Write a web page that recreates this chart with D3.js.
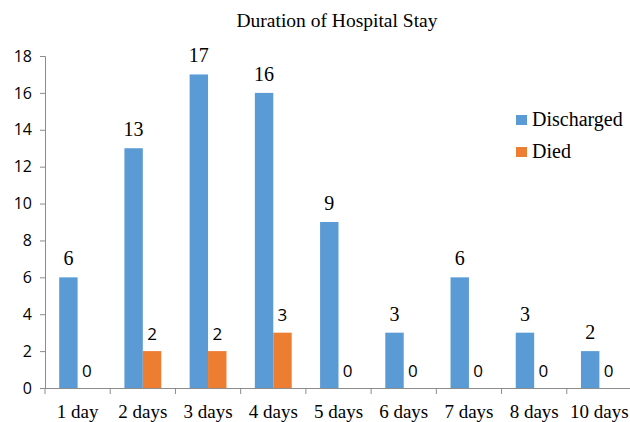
<!DOCTYPE html>
<html>
<head>
<meta charset="utf-8">
<script src="https://cdn.jsdelivr.net/npm/d3@7"></script>
<style>
  body { margin: 0; background: #fff; }
</style>
</head>
<body>
<div id="chart"></div>
<script>
// data
const categories = ['1 day', '2 days', '3 days', '4 days', '5 days', '6 days', '7 days', '8 days', '10 days'];
const discharged = [6, 13, 17, 16, 9, 3, 6, 3, 2];
const died = [0, 2, 2, 3, 0, 0, 0, 0, 0];
const yTicks = [0, 2, 4, 6, 8, 10, 12, 14, 16, 18];

const SERIF = "'Liberation Serif'";
const SANS = "'Open Sans'";

const WIDTH = 630, HEIGHT = 422;
const margin = {top: 56, right: -2, bottom: 34, left: 45};

const svg = d3.select('#chart').append('svg')
    .attr('width', WIDTH)
    .attr('height', HEIGHT);

const x = d3.scaleBand()
    .domain(categories)
    .range([margin.left, WIDTH - margin.right]);

const sub = d3.scaleBand()
    .domain(['discharged', 'died'])
    .range([0, x.bandwidth()])
    .paddingInner(0)
    .paddingOuter(0.77);

const y = d3.scaleLinear()
    .domain([0, 18])
    .range([HEIGHT - margin.bottom, margin.top]);

// title
svg.append('text')
    .attr('x', 337)
    .attr('y', 27)
    .attr('text-anchor', 'middle')
    .style('font-family', SERIF)
    .style('font-size', '19.5px')
    .text('Duration of Hospital Stay');

// y axis
const yAxis = svg.append('g')
    .attr('transform', `translate(${margin.left},0)`)
    .call(d3.axisLeft(y).tickValues(yTicks).tickSize(5).tickPadding(8));
yAxis.select('.domain').attr('stroke', '#8c8c8c');
yAxis.selectAll('.tick line').attr('stroke', '#8c8c8c');
yAxis.selectAll('.tick text')
    .style('font-family', SANS)
    .style('font-size', '16px')
    .attr('fill', '#000');

// x axis
const xAxis = svg.append('g')
    .attr('transform', `translate(0,${y(0)})`)
    .call(d3.axisBottom(x).tickSize(0).tickPadding(16.5));
xAxis.select('.domain').attr('stroke', '#8c8c8c');
xAxis.selectAll('.tick text')
    .style('font-family', SERIF)
    .style('font-size', '19px')
    .attr('fill', '#000');

// boundary ticks between categories
svg.append('g')
    .selectAll('line')
    .data(categories)
    .join('line')
    .attr('x1', d => x(d))
    .attr('x2', d => x(d))
    .attr('y1', y(0))
    .attr('y2', y(0) + 6)
    .attr('stroke', '#8c8c8c');

// bars
svg.append('g')
    .selectAll('rect')
    .data(categories)
    .join('rect')
    .attr('x', d => x(d) + sub('discharged'))
    .attr('y', (d, i) => y(discharged[i]))
    .attr('width', sub.bandwidth())
    .attr('height', (d, i) => y(0) - y(discharged[i]))
    .attr('fill', '#5B9BD5');

svg.append('g')
    .selectAll('rect')
    .data(categories)
    .join('rect')
    .attr('x', d => x(d) + sub('died'))
    .attr('y', (d, i) => y(died[i]))
    .attr('width', sub.bandwidth())
    .attr('height', (d, i) => y(0) - y(died[i]))
    .attr('fill', '#ED7D31');

// value labels
svg.append('g')
    .selectAll('text')
    .data(categories)
    .join('text')
    .attr('x', d => x(d) + sub('discharged') + sub.bandwidth() / 2)
    .attr('y', (d, i) => y(discharged[i]) - 12)
    .attr('text-anchor', 'middle')
    .style('font-family', SERIF)
    .style('font-size', '20px')
    .text((d, i) => discharged[i]);

svg.append('g')
    .selectAll('text')
    .data(categories)
    .join('text')
    .attr('x', d => x(d) + sub('died') + sub.bandwidth() / 2)
    .attr('y', (d, i) => y(died[i]) - 11.5)
    .attr('text-anchor', 'middle')
    .style('font-family', SANS)
    .style('font-size', '17px')
    .text((d, i) => died[i]);

// legend
const legendItems = [
    {name: 'Discharged', color: '#5B9BD5'},
    {name: 'Died', color: '#ED7D31'}
];
const legend = svg.append('g')
    .selectAll('g')
    .data(legendItems)
    .join('g')
    .attr('transform', (d, i) => `translate(516,${115 + i * 32})`);
legend.append('rect')
    .attr('width', 11)
    .attr('height', 10)
    .attr('fill', d => d.color);
legend.append('text')
    .attr('x', 16)
    .attr('y', 11)
    .style('font-family', SERIF)
    .style('font-size', '20px')
    .text(d => d.name);
</script>
</body>
</html>
